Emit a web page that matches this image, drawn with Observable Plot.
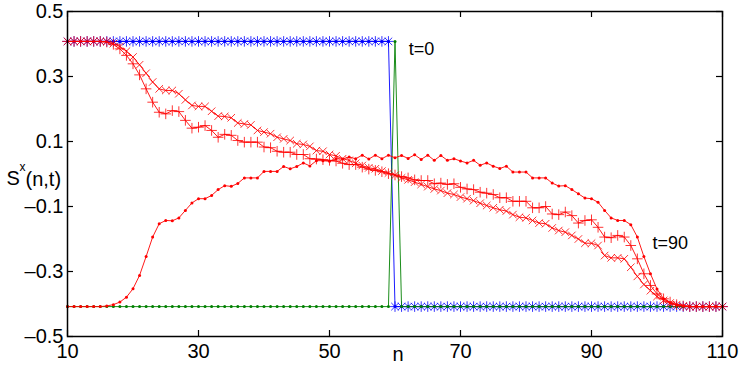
<!DOCTYPE html>
<html><head><meta charset="utf-8">
<script src="https://cdn.jsdelivr.net/npm/d3@7"></script>
<script src="https://cdn.jsdelivr.net/npm/@observablehq/plot@0.6"></script>
<style>body{margin:0;background:#fff}</style>
</head><body><div id="chart"></div>
<script>
// lattice sites
const sites = d3.range(10, 111);

// t = 0 profiles
const blueT0 = [
 0.408,0.408,0.408,0.408,0.408,0.408,0.408,0.408,0.408,0.408,
 0.408,0.408,0.408,0.408,0.408,0.408,0.408,0.408,0.408,0.408,
 0.408,0.408,0.408,0.408,0.408,0.408,0.408,0.408,0.408,0.408,
 0.408,0.408,0.408,0.408,0.408,0.408,0.408,0.408,0.408,0.408,
 0.408,0.408,0.408,0.408,0.408,0.408,0.408,0.408,0.408,0.408,
 -0.408,-0.408,-0.408,-0.408,-0.408,-0.408,-0.408,-0.408,-0.408,-0.408,
 -0.408,-0.408,-0.408,-0.408,-0.408,-0.408,-0.408,-0.408,-0.408,-0.408,
 -0.408,-0.408,-0.408,-0.408,-0.408,-0.408,-0.408,-0.408,-0.408,-0.408,
 -0.408,-0.408,-0.408,-0.408,-0.408,-0.408,-0.408,-0.408,-0.408,-0.408,
 -0.408,-0.408,-0.408,-0.408,-0.408,-0.408,-0.408,-0.408,-0.408,-0.408,
 -0.408];
const greenT0 = [
 -0.408,-0.408,-0.408,-0.408,-0.408,-0.408,-0.408,-0.408,-0.408,-0.408,
 -0.408,-0.408,-0.408,-0.408,-0.408,-0.408,-0.408,-0.408,-0.408,-0.408,
 -0.408,-0.408,-0.408,-0.408,-0.408,-0.408,-0.408,-0.408,-0.408,-0.408,
 -0.408,-0.408,-0.408,-0.408,-0.408,-0.408,-0.408,-0.408,-0.408,-0.408,
 -0.408,-0.408,-0.408,-0.408,-0.408,-0.408,-0.408,-0.408,-0.408,-0.408,
 0.408,-0.408,-0.408,-0.408,-0.408,-0.408,-0.408,-0.408,-0.408,-0.408,
 -0.408,-0.408,-0.408,-0.408,-0.408,-0.408,-0.408,-0.408,-0.408,-0.408,
 -0.408,-0.408,-0.408,-0.408,-0.408,-0.408,-0.408,-0.408,-0.408,-0.408,
 -0.408,-0.408,-0.408,-0.408,-0.408,-0.408,-0.408,-0.408,-0.408,-0.408,
 -0.408,-0.408,-0.408,-0.408,-0.408,-0.408,-0.408,-0.408,-0.408,-0.408,
 -0.408];

// t = 90 profiles
const redDots = [
 -0.408,-0.408,-0.408,-0.408,-0.408,-0.408,-0.406,-0.402,-0.394,-0.379,
 -0.353,-0.312,-0.254,-0.194,-0.153,-0.143,-0.144,-0.135,-0.112,-0.089,
 -0.076,-0.076,-0.066,-0.048,-0.036,-0.038,-0.029,-0.012,-0.012,-0.012,
 0.008,0.008,0.008,0.023,0.016,0.023,0.034,0.025,0.041,0.041,
 0.039,0.047,0.046,0.052,0.047,0.058,0.046,0.058,0.047,0.058,
 0.050,0.057,0.048,0.059,0.045,0.058,0.042,0.057,0.042,0.047,
 0.040,0.034,0.042,0.027,0.034,0.024,0.017,0.024,0.006,0.006,
 0.006,-0.012,-0.012,-0.012,-0.028,-0.037,-0.036,-0.048,-0.061,-0.074,
 -0.076,-0.087,-0.112,-0.135,-0.143,-0.143,-0.156,-0.194,-0.254,-0.307,
 -0.354,-0.384,-0.397,-0.403,-0.405,-0.408,-0.408,-0.408,-0.408,-0.408,
 -0.408];
const redPlus = [
 0.408,0.408,0.408,0.408,0.408,0.408,0.406,0.399,0.385,0.365,
 0.339,0.305,0.262,0.221,0.190,0.185,0.195,0.192,0.165,0.141,
 0.144,0.149,0.134,0.113,0.122,0.119,0.103,0.098,0.098,0.098,
 0.083,0.081,0.070,0.067,0.067,0.060,0.060,0.047,0.046,0.044,
 0.042,0.040,0.033,0.029,0.029,0.021,0.015,0.011,0.007,0.001,
 -0.003,-0.008,-0.012,-0.018,-0.020,-0.020,-0.030,-0.028,-0.032,-0.030,
 -0.041,-0.046,-0.048,-0.056,-0.059,-0.063,-0.073,-0.073,-0.084,-0.084,
 -0.084,-0.104,-0.104,-0.100,-0.123,-0.125,-0.117,-0.128,-0.151,-0.143,
 -0.141,-0.164,-0.194,-0.196,-0.189,-0.194,-0.220,-0.261,-0.307,-0.343,
 -0.369,-0.384,-0.394,-0.402,-0.406,-0.408,-0.408,-0.408,-0.408,-0.408,
 -0.408];
const redCross = [
 0.408,0.408,0.408,0.408,0.408,0.408,0.407,0.401,0.392,0.378,
 0.360,0.336,0.310,0.283,0.262,0.257,0.257,0.247,0.228,0.211,
 0.208,0.208,0.193,0.178,0.177,0.173,0.157,0.154,0.151,0.134,
 0.129,0.124,0.113,0.108,0.103,0.093,0.091,0.085,0.072,0.070,
 0.060,0.056,0.047,0.042,0.033,0.026,0.019,0.016,0.009,0.003,
 -0.004,-0.012,-0.018,-0.025,-0.032,-0.039,-0.046,-0.051,-0.059,-0.063,
 -0.071,-0.076,-0.082,-0.090,-0.097,-0.104,-0.110,-0.114,-0.125,-0.133,
 -0.135,-0.143,-0.151,-0.153,-0.166,-0.174,-0.179,-0.189,-0.200,-0.213,
 -0.213,-0.220,-0.251,-0.258,-0.258,-0.261,-0.287,-0.315,-0.340,-0.359,
 -0.377,-0.389,-0.397,-0.402,-0.406,-0.408,-0.408,-0.408,-0.408,-0.408,
 -0.408];

// axes
const xTicks = [10, 30, 50, 70, 90, 110];
const yTicks = [0.5, 0.3, 0.1, -0.1, -0.3, -0.5];
const yTickLabels = ["0.5", "0.3", "0.1", "\u20130.1", "\u20130.3", "\u20130.5"];
const curveLabels = ["t=0", "t=90"];
const curveLabelN = [62.1, 99.3];
const curveLabelS = [0.365, -0.232];

const W = 747, H = 375, mL = 67, mR = 25, mT = 11, mB = 39;
const xDom = [10, 110], yDom = [-0.5, 0.5];
const tickPx = 6;
const tY = tickPx * (yDom[1] - yDom[0]) / (H - mT - mB);
const tX = tickPx * (xDom[1] - xDom[0]) / (W - mL - mR);

const rows = (ys) => sites.map((n, i) => ({n, s: ys[i]}));
const blue = rows(blueT0), green = rows(greenT0);
const rd = rows(redDots), rp = rows(redPlus), rc = rows(redCross);
const RED = "#ff0000", BLUE = "#0000ff", GREEN = "#008000";
const font = "'Liberation Sans', Arial, Helvetica, sans-serif";

const seriesMarks = (data, color, syms) => {
  const m = [Plot.line(data, {x: "n", y: "s", stroke: color, strokeWidth: 0.9})];
  for (const s of syms) {
    if (s === "dot") m.push(Plot.dot(data, {x: "n", y: "s", r: 1.5, fill: color, stroke: "none"}));
    else m.push(Plot.dot(data, {x: "n", y: "s", r: 3.5, symbol: s, stroke: color, strokeWidth: 0.8}));
  }
  return m;
};

const chart = Plot.plot({
  width: W, height: H,
  marginLeft: mL, marginRight: mR, marginTop: mT, marginBottom: mB,
  x: {domain: xDom},
  y: {domain: yDom},
  style: {fontFamily: font, fontSize: "20px", background: "#fff", color: "#000"},
  marks: [
    ...seriesMarks(blue, BLUE, ["dot", "plus", "times"]),
    ...seriesMarks(green, GREEN, ["dot"]),
    ...seriesMarks(rd, RED, ["dot"]),
    ...seriesMarks(rp, RED, ["plus"]),
    ...seriesMarks(rc, RED, ["times"]),
    // inward ticks
    Plot.ruleX(xTicks, {x: d => d, y1: yDom[0], y2: yDom[0] + tY, stroke: "#000", strokeWidth: 1.2}),
    Plot.ruleX(xTicks, {x: d => d, y1: yDom[1], y2: yDom[1] - tY, stroke: "#000", strokeWidth: 1.2}),
    Plot.ruleY(yTicks, {y: d => d, x1: xDom[0], x2: xDom[0] + tX, stroke: "#000", strokeWidth: 1.2}),
    Plot.ruleY(yTicks, {y: d => d, x1: xDom[1], x2: xDom[1] - tX, stroke: "#000", strokeWidth: 1.2}),
    Plot.frame({stroke: "#000", strokeWidth: 1.5}),
    Plot.axisX(xTicks, {tickSize: 0, tickPadding: 7, fontSize: 20, label: null}),
    Plot.axisY(yTicks, {tickSize: 0, tickPadding: 4, fontSize: 20, label: null,
      tickFormat: d => yTickLabels[yTicks.indexOf(d)]}),
    Plot.text(["n"], {frameAnchor: "bottom", dx: 3, dy: 10, lineAnchor: "top", fontSize: 20}),
    Plot.text(["S"], {frameAnchor: "left", textAnchor: "start", dx: -61, dy: 5, fontSize: 20}),
    Plot.text(["x"], {frameAnchor: "left", textAnchor: "start", dx: -48, dy: -7, fontSize: 12}),
    Plot.text(["(n,t)"], {frameAnchor: "left", textAnchor: "start", dx: -42, dy: 6, fontSize: 20}),
    Plot.text(curveLabels, {x: (d, i) => curveLabelN[i], y: (d, i) => curveLabelS[i],
      textAnchor: "start", lineAnchor: "bottom", fontSize: 18})
  ]
});
document.getElementById("chart").appendChild(chart);
</script>
</body></html>
